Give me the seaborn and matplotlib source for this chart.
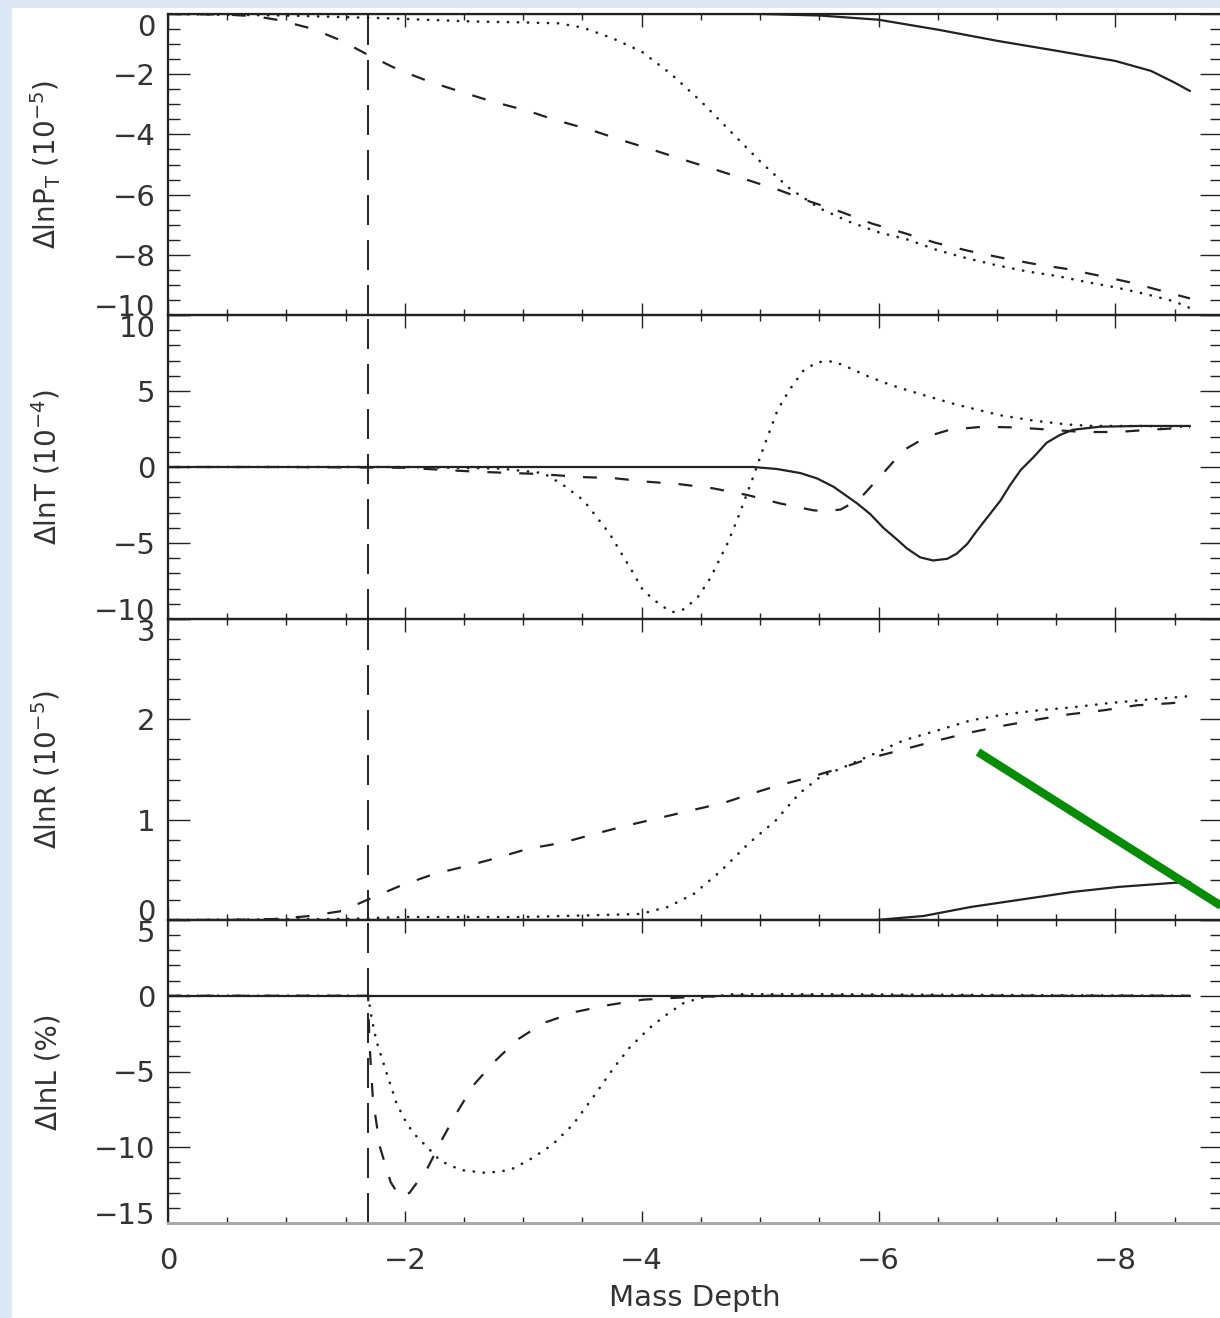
import matplotlib
matplotlib.use('Agg')
import matplotlib.pyplot as plt
import seaborn as sns
from matplotlib.ticker import MultipleLocator, FixedLocator
from matplotlib.lines import Line2D
from matplotlib.patches import Rectangle
from matplotlib.transforms import ScaledTranslation

# ---------------- data ----------------
x_limits = (0, -8.9)
marker_depth = -1.69

# Panel 1: dlnP_T (1e-5)
p1_solid_x = [0, -1, -2, -3, -4, -5, -5.5, -6, -6.5, -7, -7.5, -8, -8.3, -8.5, -8.63]
p1_solid_y = [0, 0, 0, 0, 0, 0, -0.05, -0.19, -0.52, -0.89, -1.22, -1.56, -1.89, -2.28, -2.56]
p1_dash_x = [0, -0.5, -0.75, -0.93, -1.21, -1.45, -1.70, -1.95, -2.21, -2.47, -2.74, -3.04, -3.27,
             -3.57, -3.83, -4.10, -4.36, -4.63, -4.89, -5.16, -5.42, -5.68, -5.95, -6.21, -6.48,
             -6.76, -7.04, -7.31, -7.59, -7.87, -8.14, -8.42, -8.63]
p1_dash_y = [0, -0.02, -0.08, -0.2, -0.48, -0.86, -1.38, -1.86, -2.25, -2.58, -2.91, -3.22, -3.52,
             -3.85, -4.19, -4.52, -4.85, -5.18, -5.51, -5.85, -6.23, -6.57, -6.97, -7.27, -7.6,
             -7.87, -8.1, -8.3, -8.47, -8.7, -8.93, -9.23, -9.45]
p1_dot_x = [0, -1, -1.83, -2.59, -3.0, -3.3, -3.5, -3.75, -4.0, -4.25, -4.5, -4.75, -5.0, -5.25,
            -5.5, -5.75, -6.0, -6.25, -6.5, -6.75, -7.0, -7.25, -7.5, -7.75, -8.0, -8.25, -8.5, -8.63]
p1_dot_y = [0, -0.05, -0.14, -0.25, -0.28, -0.31, -0.45, -0.8, -1.25, -2.0, -2.9, -3.9, -4.9, -5.8,
            -6.45, -6.9, -7.25, -7.5, -7.85, -8.12, -8.35, -8.55, -8.7, -8.9, -9.08, -9.3, -9.55, -9.77]

# Panel 2: dlnT (1e-4)
p2_solid_x = [0, -1, -2, -3, -4, -4.94, -5.14, -5.34, -5.48, -5.62, -5.82, -5.93, -6.04, -6.16,
              -6.24, -6.35, -6.46, -6.58, -6.66, -6.75, -6.83, -6.92, -7.03, -7.11, -7.2, -7.31,
              -7.42, -7.53, -7.64, -7.87, -8.2, -8.63]
p2_solid_y = [0, 0, 0, 0, 0, 0, -0.13, -0.4, -0.75, -1.3, -2.4, -3.1, -4.0, -4.8,
              -5.36, -5.94, -6.15, -6.04, -5.7, -5.05, -4.2, -3.3, -2.2, -1.2, -0.2, 0.66,
              1.6, 2.1, 2.45, 2.65, 2.7, 2.7]
p2_dash_x = [0, -1, -2, -2.58, -2.91, -3.14, -3.48, -3.76, -4.05, -4.32, -4.6, -4.89, -5.17, -5.45,
             -5.55, -5.68, -5.84, -6.04, -6.21, -6.41, -6.6, -6.88, -7.17, -7.45, -7.73, -8.01,
             -8.29, -8.63]
p2_dash_y = [0, 0, -0.05, -0.3, -0.4, -0.46, -0.66, -0.73, -0.97, -1.13, -1.4, -1.84, -2.4, -2.85,
             -2.9, -2.8, -2.1, -0.4, 1.1, 2.0, 2.45, 2.65, 2.6, 2.45, 2.3, 2.3, 2.45, 2.6]
p2_dot_x = [0, -1, -2, -2.8, -3.17, -3.34, -3.51, -3.62, -3.73, -3.83, -3.93, -4.01, -4.16, -4.26,
            -4.36, -4.48, -4.58, -4.72, -4.81, -4.93, -5.03, -5.15, -5.25, -5.36, -5.48, -5.62,
            -5.73, -5.9, -6.1, -6.35, -6.66, -7.03, -7.31, -7.59, -7.8, -8.2, -8.63]
p2_dot_y = [0, 0, 0, -0.1, -0.4, -1.2, -2.2, -3.3, -4.4, -5.7, -7.0, -8.1, -9.1, -9.55,
            -9.35, -8.5, -7.3, -5.1, -3.4, -0.9, 1.3, 3.8, 5.1, 6.3, 6.9, 6.95,
            6.6, 6.0, 5.4, 4.8, 4.1, 3.4, 3.05, 2.8, 2.7, 2.7, 2.65]

# Panel 3: dlnR (1e-5)
p3_solid_x = [0, -2, -4, -5.98, -6.38, -6.78, -7.24, -7.64, -8.03, -8.49, -8.63]
p3_solid_y = [0, 0, 0, 0, 0.04, 0.13, 0.21, 0.28, 0.33, 0.37, 0.38]
p3_dash_x = [0, -0.5, -0.9, -1.2, -1.47, -1.7, -1.96, -2.25, -2.53, -2.78, -3.04, -3.33, -3.61,
             -3.87, -4.16, -4.41, -4.7, -4.93, -5.15, -5.41, -5.7, -5.95, -6.21, -6.5, -6.78,
             -7.07, -7.35, -7.61, -7.9, -8.18, -8.46, -8.63]
p3_dash_y = [0, 0, 0.01, 0.04, 0.09, 0.21, 0.34, 0.46, 0.54, 0.62, 0.71, 0.77, 0.86,
             0.94, 1.02, 1.09, 1.17, 1.26, 1.34, 1.42, 1.52, 1.62, 1.70, 1.79, 1.87,
             1.94, 2.0, 2.05, 2.09, 2.14, 2.16, 2.18]
p3_dot_x = [0, -1.5, -2, -3, -3.99, -4.22, -4.44, -4.67, -4.9, -5.13, -5.33, -5.5, -5.7, -5.95,
            -6.21, -6.5, -6.78, -7.07, -7.35, -7.64, -7.93, -8.21, -8.61]
p3_dot_y = [0, 0.01, 0.03, 0.03, 0.06, 0.13, 0.26, 0.49, 0.76, 0.99, 1.26, 1.42, 1.52, 1.65,
            1.79, 1.89, 1.99, 2.05, 2.09, 2.12, 2.16, 2.19, 2.23]

# Panel 4: dlnL (%)
p4_solid_x = [0, -2, -4, -6, -8, -8.63]
p4_solid_y = [0, 0, 0, 0, 0, 0]
p4_dash_x = [0, -1, -1.69, -1.70, -1.73, -1.79, -1.88, -1.96, -2.04, -2.19, -2.32, -2.44, -2.58,
             -2.75, -2.95, -3.17, -3.45, -3.73, -4.01, -4.3, -4.72, -6, -8.63]
p4_dash_y = [0, 0, 0, -3.0, -6.8, -10.0, -12.3, -13.3, -13.0, -11.4, -9.4, -7.7, -5.9,
             -4.4, -2.9, -1.8, -1.05, -0.6, -0.26, -0.13, 0, 0, 0]
p4_dot_x = [0, -1, -1.69, -1.72, -1.76, -1.85, -1.93, -2.02, -2.1, -2.19, -2.3, -2.47, -2.69,
            -2.89, -3.08, -3.25, -3.42, -3.59, -3.76, -3.9, -4.07, -4.21, -4.35, -4.49, -4.77,
            -5.5, -7, -8.63]
p4_dot_y = [0, 0, 0, -1.5, -3.0, -5.2, -7.1, -8.5, -9.3, -10.0, -10.9, -11.5, -11.7,
            -11.5, -10.7, -9.8, -8.5, -6.7, -4.8, -3.4, -2.1, -1.25, -0.5, -0.15, 0.1,
            0.1, 0.05, 0.0]

y_labels = ['ΔlnP$_T$ (10$^{-5}$)', 'ΔlnT (10$^{-4}$)', 'ΔlnR (10$^{-5}$)', 'ΔlnL (%)']
y_limits = [(-10, 0), (-10, 10), (0, 3), (-15, 5)]
y_ticks = [[-10, -8, -6, -4, -2, 0], [-10, -5, 0, 5, 10], [0, 1, 2, 3], [-15, -10, -5, 0, 5]]
y_minor = [0.5, 1, 0.2, 1]
x_ticks = [0, -2, -4, -6, -8]
x_label = 'Mass Depth'

panels = [
    (p1_solid_x, p1_solid_y, p1_dash_x, p1_dash_y, p1_dot_x, p1_dot_y),
    (p2_solid_x, p2_solid_y, p2_dash_x, p2_dash_y, p2_dot_x, p2_dot_y),
    (p3_solid_x, p3_solid_y, p3_dash_x, p3_dash_y, p3_dot_x, p3_dot_y),
    (p4_solid_x, p4_solid_y, p4_dash_x, p4_dash_y, p4_dot_x, p4_dot_y),
]

# ---------------- style ----------------
sns.set_style('ticks')
plt.rcParams['font.family'] = ['DejaVu Sans']
plt.rcParams['mathtext.default'] = 'regular'
plt.rcParams['lines.scale_dashes'] = False

ink = '#222222'
txt = '#333333'
W, H = 1220, 1318
fig = plt.figure(figsize=(W / 100, H / 100), dpi=100)
fig.patch.set_facecolor('white')

# light blue page border strips
fig.add_artist(Rectangle((0, 0), 12 / W, 1, transform=fig.transFigure,
                         facecolor='#dce8f6', edgecolor='none', zorder=0))
fig.add_artist(Rectangle((0, 1 - 8 / H), 1, 8 / H, transform=fig.transFigure,
                         facecolor='#dce8f6', edgecolor='none', zorder=0))

left_px, right_px = 168, 1222
bounds = [(14, 315), (315, 619), (619, 920), (920, 1223)]

dash_style = (0, (10, 13))
dot_style = (0, (0.2, 7))
vline_style = (0, (21.6, 10.8))

axes = []
for i, ((top, bot), data) in enumerate(zip(bounds, panels)):
    ax = fig.add_axes([left_px / W, 1 - bot / H, (right_px - left_px) / W, (bot - top) / H])
    ax.set_facecolor('none')
    sx, sy, dx, dy, ox, oy = data
    sns.lineplot(x=sx, y=sy, ax=ax, color=ink, lw=1.6, sort=False, estimator=None)
    sns.lineplot(x=dx, y=dy, ax=ax, color=ink, lw=1.6, linestyle=dash_style, sort=False, estimator=None)
    sns.lineplot(x=ox, y=oy, ax=ax, color=ink, lw=1.9, linestyle=dot_style,
                 dash_capstyle='round', sort=False, estimator=None)
    ax.axvline(marker_depth, color=ink, lw=1.4, linestyle=vline_style)

    ax.set_xlim(*x_limits)
    ax.set_ylim(*y_limits[i])
    ax.xaxis.set_major_locator(FixedLocator(x_ticks))
    ax.xaxis.set_minor_locator(MultipleLocator(0.5))
    ax.yaxis.set_major_locator(FixedLocator(y_ticks[i]))
    ax.yaxis.set_minor_locator(MultipleLocator(y_minor[i]))
    ax.tick_params(axis='x', which='major', direction='in', length=9, width=1.0, color=ink,
                   top=True, bottom=True, labelbottom=(i == 3), labelsize=21, pad=17,
                   labelcolor=txt)
    ax.tick_params(axis='x', which='minor', direction='in', length=4.5, width=1.0, color=ink,
                   top=True, bottom=True)
    ax.tick_params(axis='y', which='major', direction='in', length=15.5, width=1.0, color=ink,
                   left=True, right=True, labelsize=21, pad=9, labelcolor=txt)
    ax.tick_params(axis='y', which='minor', direction='in', length=8.5, width=1.0, color=ink,
                   left=True, right=True)
    for sp in ax.spines.values():
        sp.set_color(ink)
        sp.set_linewidth(1.6)
    ax.set_xlabel('')
    ax.set_ylabel(y_labels[i], fontsize=20, color=txt)
    ax.yaxis.set_label_coords(-0.1, 0.5)
    axes.append(ax)

axes[3].spines['bottom'].set_color('#a8a8a8')
axes[3].spines['bottom'].set_linewidth(2.2)
axes[3].set_xlabel(x_label, fontsize=21, color=txt)
axes[3].xaxis.set_label_coords(0.5, -0.2)

# green annotation stroke
fig.add_artist(Line2D([978 / W, 1245 / W], [1 - 752 / H, 1 - 921 / H], transform=fig.transFigure,
                      color='#078c07', lw=6, solid_capstyle='butt', zorder=10))

# nudge the end labels of each panel inward, as in the reference
fig.canvas.draw()
for i, ax in enumerate(axes):
    ticks = ax.yaxis.get_major_ticks()
    locs = y_ticks[i]
    for t, loc in zip(ticks, locs):
        if loc == y_limits[i][1]:
            t.label1.set_transform(t.label1.get_transform() + ScaledTranslation(0, -0.11, fig.dpi_scale_trans))
        elif loc == y_limits[i][0]:
            t.label1.set_transform(t.label1.get_transform() + ScaledTranslation(0, 0.10, fig.dpi_scale_trans))

fig.savefig('out.png', dpi=100)
